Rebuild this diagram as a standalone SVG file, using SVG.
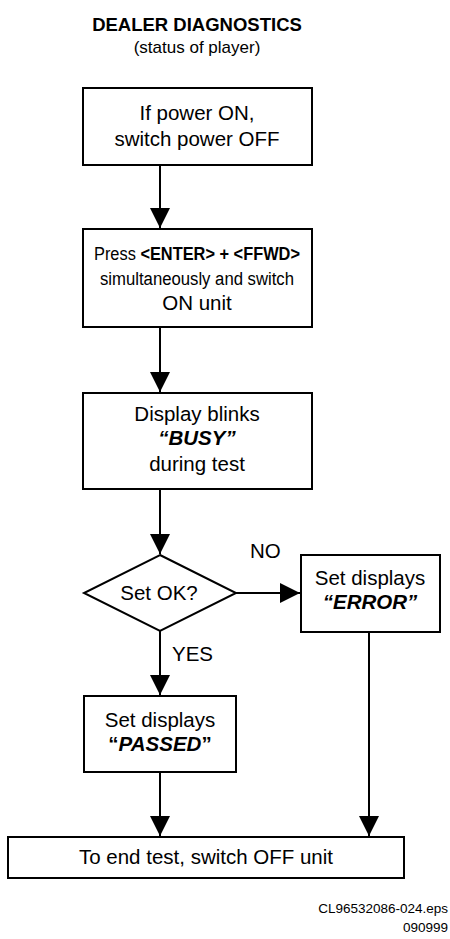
<svg xmlns="http://www.w3.org/2000/svg" width="450" height="939" viewBox="0 0 450 939">
<style>
text{font-family:"Liberation Sans",Arial,sans-serif;fill:#000}
.t{font-size:20.5px;text-anchor:middle}
.m{font-size:18px;text-anchor:middle}
.s{font-size:17px;text-anchor:middle}
.b{font-weight:bold}
.bi{font-weight:bold;font-style:italic}
.box{fill:#fff;stroke:#000;stroke-width:2}
.c{fill:none;stroke:#000;stroke-width:2}
</style>
<defs>
<marker id="ah" markerUnits="userSpaceOnUse" markerWidth="20" markerHeight="20" refX="20" refY="10" orient="auto">
<path d="M0,0 L20,10 L0,20 z" fill="#000"/>
</marker>
</defs>
<g id="title">
<text x="197" y="31" text-anchor="middle" font-size="18.5" class="b">DEALER DIAGNOSTICS</text>
<text x="197" y="53" class="s">(status of player)</text>
</g>
<g id="connectors">
<path class="c" d="M160,165 V228" marker-end="url(#ah)"/>
<path class="c" d="M160,327 V392" marker-end="url(#ah)"/>
<path class="c" d="M160,489 V554" marker-end="url(#ah)"/>
<path class="c" d="M236,593 H300" marker-end="url(#ah)"/>
<path class="c" d="M160,631 V695" marker-end="url(#ah)"/>
<path class="c" d="M160,772 V836" marker-end="url(#ah)"/>
<path class="c" d="M369,632 V836" marker-end="url(#ah)"/>
</g>
<g id="n1">
<rect class="box" x="83" y="88" width="229" height="77"/>
<text x="197" y="120" class="t">If power ON,</text>
<text x="197" y="146" class="t">switch power OFF</text>
</g>
<g id="n2">
<rect class="box" x="83" y="229" width="229" height="98"/>
<text x="197" y="260" class="m" textLength="206" lengthAdjust="spacingAndGlyphs">Press <tspan class="b">&lt;ENTER&gt; + &lt;FFWD&gt;</tspan></text>
<text x="197" y="285" class="m" textLength="194" lengthAdjust="spacingAndGlyphs">simultaneously and switch</text>
<text x="197" y="310" class="t">ON unit</text>
</g>
<g id="n3">
<rect class="box" x="83" y="393" width="229" height="96"/>
<text x="197" y="421" class="t">Display blinks</text>
<text x="197" y="445" class="t bi">“BUSY”</text>
<text x="197" y="471" class="t">during test</text>
</g>
<g id="n4">
<polygon class="box" points="160,555 236,593 160,631 84,593"/>
<text x="159" y="600" class="t">Set OK?</text>
</g>
<g id="labels">
<text x="250" y="558" font-size="20.5">NO</text>
<text x="172" y="661" font-size="20.5">YES</text>
</g>
<g id="n5">
<rect class="box" x="301" y="555" width="139" height="77"/>
<text x="370" y="585" class="t">Set displays</text>
<text x="370" y="609" class="t bi">“ERROR”</text>
</g>
<g id="n6">
<rect class="box" x="84" y="696" width="152" height="76"/>
<text x="160" y="727" class="t">Set displays</text>
<text x="160" y="751" class="t b">“<tspan font-style="italic">PASSED</tspan>”</text>
</g>
<g id="n7">
<rect class="box" x="8" y="837" width="396" height="41"/>
<text x="206" y="864" class="t">To end test, switch OFF unit</text>
</g>
<g id="footer">
<text x="448" y="913" font-size="13.5" text-anchor="end">CL96532086-024.eps</text>
<text x="448" y="932" font-size="13.5" text-anchor="end">090999</text>
</g>
</svg>
